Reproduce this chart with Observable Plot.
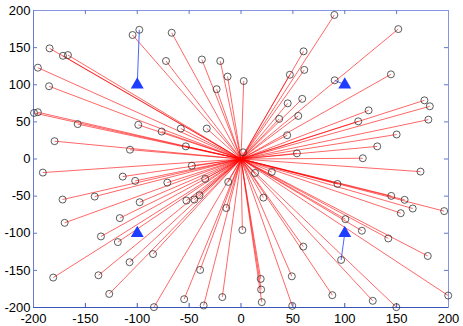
<!DOCTYPE html>
<html>
<head>
<meta charset="utf-8">
<script src="https://cdn.jsdelivr.net/npm/d3@7"></script>
<script src="https://cdn.jsdelivr.net/npm/@observablehq/plot@0.6"></script>
<style>
  html, body { margin: 0; padding: 0; background: #fff; }
  #chart svg { display: block; }
</style>
</head>
<body>
<div id="chart"></div>
<script>
// Base station
const baseX = [0];
const baseY = [0];

// Sensor nodes linked to the base station
const nodeX = [
  -104.5, -66.8, -184.5, -171.6, -166.8, -195.8, -185, -72.3, -37.7, -20, -12.9, -23.5,
  -199.5, -195.8, -157.4, -99, -58, -33, -76.5, -179.7, -53.2, -107,
  90, 151.6, 60.3, 47.1, 61, 2.6, 144.5, 59, 45, 36.8, 55.2, 176.8, 182, 123, 113, 180.6,
  44.5, 150, 131.3, 53.9, 117.4, 2,
  -47.4, -191, -114, -102, -71, -34.5, -12.3, -172, -141, -97.7, -52.6, -45, -40, -14.2,
  -170, -116.8, -135, -118.7, -84.8, -107.4, -181, -137.4, -127, -83.9, -54.8, -39.4, -36, -18,
  173, 13.5, 29.7, 93, 144.8, 157.7, 165.5, 154, 195.8, 21.6, 100.6, 116.5, 142, 180, 1.3,
  60, 49, 19, 19.4, 20, 49.4, 88, 127, 149.7, 199.7
];
const nodeY = [
  167, 170, 149, 139, 140, 123, 98, 132, 134, 132, 111, 94,
  62, 63, 47, 46, 41, 41, 37, 24, 17, 12.5,
  194, 175, 145, 113.5, 120, 105, 114, 81, 75, 54, 58, 79, 71, 65.5, 50.7, 53,
  32, 33, 17, 7.6, 1, 9,
  -9, -18.3, -23.7, -29.5, -31.8, -26.8, -30.9, -54.6, -50.6, -58.2, -56, -54.6, -48.8, -66,
  -86, -79.6, -104.3, -111.9, -128, -139, -159.7, -156.6, -181.7, -199.5, -188.8, -149.4, -197.3, -186,
  -17, -18.8, -17.4, -33.6, -49.7, -55, -66.7, -73, -70.2, -52, -81, -96.6, -107, -130.6, -95.7,
  -118, -158, -161.5, -175.8, -192.8, -197.8, -183.4, -191, -199.5, -183.9
];

// Cluster heads (triangles)
const headX = [-100, 100, -100, 100];
const headY = [100, 100, -100, -100];

// Nodes linked to a cluster head
const memberX = [-98, 90.3, 96.5];
const memberY = [174, 106, -136];
const memberHead = [0, 1, 3];

// Axis ticks
const xTicks = [-200, -150, -100, -50, 0, 50, 100, 150, 200];
const yTicks = [-200, -150, -100, -50, 0, 50, 100, 150, 200];

const nodes = nodeX.map((x, i) => ({x, y: nodeY[i]}));
const members = memberX.map((x, i) => ({x, y: memberY[i], hx: headX[memberHead[i]], hy: headY[memberHead[i]]}));
const allNodes = nodes.concat(members.map(d => ({x: d.x, y: d.y})));
const heads = headX.map((x, i) => ({x, y: headY[i]}));

const tickLenX = 5.4; // y-units (~4px)
const tickLenY = 3.9; // x-units (~4px)

const plot = Plot.plot({
  width: 463,
  height: 326,
  marginLeft: 33,
  marginRight: 15,
  marginTop: 10,
  marginBottom: 19,
  style: {fontFamily: "'Liberation Sans', Arial, Helvetica, sans-serif", fontSize: "13px", color: "#000", background: "#fff"},
  x: {domain: [-200, 200], ticks: xTicks},
  y: {domain: [-200, 200], ticks: yTicks},
  marks: [
    Plot.frame({stroke: "#8595e2", strokeWidth: 1}),
    // inward ticks
    Plot.ruleX(xTicks.slice(1, -1), {x: d => d, y1: -200, y2: -200 + tickLenX, stroke: "#3b55b8", strokeWidth: 1}),
    Plot.ruleX(xTicks.slice(1, -1), {x: d => d, y1: 200, y2: 200 - tickLenX, stroke: "#6275cc", strokeWidth: 1}),
    Plot.ruleY(yTicks.slice(1, -1), {y: d => d, x1: -200, x2: -200 + tickLenY, stroke: "#6275cc", strokeWidth: 1}),
    Plot.ruleY(yTicks.slice(1, -1), {y: d => d, x1: 200, x2: 200 - tickLenY, stroke: "#6275cc", strokeWidth: 1}),
    Plot.ruleY([-200], {stroke: "#3b55b8", strokeWidth: 1}),
    Plot.ruleX([-200], {stroke: "#6a7cd6", strokeWidth: 1}),
    Plot.axisX({ticks: xTicks, tickSize: 0, tickPadding: 6.5, tickFormat: d => String(d), fill: "#000", fontSize: 13}),
    Plot.axisY({ticks: yTicks, tickSize: 0, tickPadding: 3, tickFormat: d => String(d), fill: "#000", fontSize: 13, label: null}),
    Plot.link(nodes, {x1: () => baseX[0], y1: () => baseY[0], x2: "x", y2: "y", stroke: "#ff0000", strokeWidth: 0.6}),
    Plot.link(members, {x1: "hx", y1: "hy", x2: "x", y2: "y", stroke: "#3355ff", strokeWidth: 0.9}),
    Plot.dot(allNodes, {x: "x", y: "y", r: 3.5, stroke: "#333", strokeWidth: 0.8, fill: "none"}),
    Plot.dot(heads, {x: "x", y: "y", symbol: "triangle", r: 4.8, fill: "#1f3dff", stroke: "none"})
  ]
});
document.getElementById("chart").append(plot);
</script>
</body>
</html>
